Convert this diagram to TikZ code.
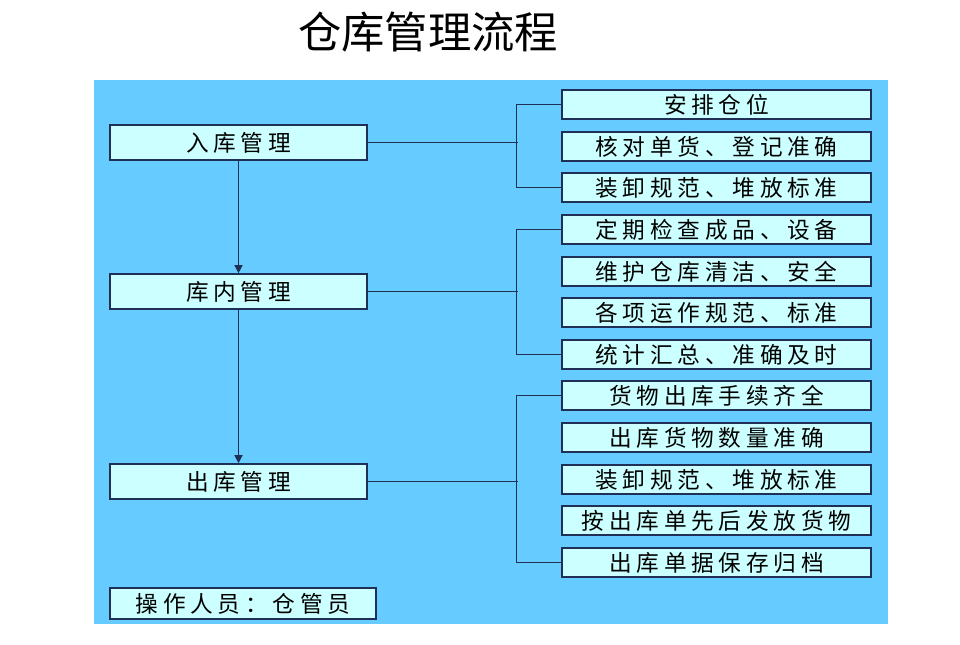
\documentclass[tikz,border=0pt]{standalone}
\usepackage{fontspec}
\usepackage{tikz}
\usetikzlibrary{arrows.meta, positioning}
\newfontfamily\cjk{Noto Sans CJK SC}
\newfontfamily\cjkwide[LetterSpace=21]{Noto Sans CJK SC}
\definecolor{panelblue}{HTML}{66CCFF}
\definecolor{boxfill}{HTML}{CCFFFF}
\definecolor{edgenavy}{HTML}{1F2F55}

\begin{document}
\begin{tikzpicture}[x=0.75pt, y=-0.75pt,
    mainbox/.style={rectangle, draw=edgenavy, fill=boxfill, line width=1.2pt,
                    minimum width=192.75pt, minimum height=26.25pt, inner sep=0pt,
                    font=\cjkwide\fontsize{17}{17}\selectfont},
    itembox/.style={mainbox, minimum width=231.75pt, minimum height=21.75pt},
    link/.style={draw=edgenavy, line width=1pt},
    arrow/.style={link, -{Triangle[length=6pt, width=6pt]}}
  ]
    \useasboundingbox (0,0) rectangle (960,645);

    % Title and panel
    \node[font=\cjk\fontsize{32.5}{32.5}\selectfont] (title) at (428, 32) {仓库管理流程};
    \fill[panelblue] (94, 80) rectangle (888, 624);

    % Stages
    \node[mainbox] (instock)  at (238.5, 142.5) {入库管理};
    \node[mainbox] (instore)  at (238.5, 291.5) {库内管理};
    \node[mainbox] (outstock) at (238.5, 481.5) {出库管理};

    % Operator
    \node[mainbox, minimum width=199.5pt, minimum height=23.25pt]
      (operator) at (243, 603.5) {操作人员：仓管员};

    % Tasks
    \node[itembox] (in1)  at (716.5, 104.5) {安排仓位};
    \node[itembox] (in2)  at (716.5, 146.5) {核对单货、登记准确};
    \node[itembox] (in3)  at (716.5, 187.5) {装卸规范、堆放标准};
    \node[itembox] (st1)  at (716.5, 229.5) {定期检查成品、设备};
    \node[itembox] (st2)  at (716.5, 271.5) {维护仓库清洁、安全};
    \node[itembox] (st3)  at (716.5, 312.5) {各项运作规范、标准};
    \node[itembox] (st4)  at (716.5, 354.5) {统计汇总、准确及时};
    \node[itembox] (out1) at (716.5, 395.5) {货物出库手续齐全};
    \node[itembox] (out2) at (716.5, 437.5) {出库货物数量准确};
    \node[itembox] (out3) at (716.5, 479.5) {装卸规范、堆放标准};
    \node[itembox] (out4) at (716.5, 520.5) {按出库单先后发放货物};
    \node[itembox] (out5) at (716.5, 562.5) {出库单据保存归档};

    % Arrows
    \draw[arrow] (instock.south) -- (instore.north);
    \draw[arrow] (instore.south) -- (outstock.north);

    % Brackets
    \draw[link] (instock.east) -- ++(150, 0);
    \draw[link] (in1.west) -- ++(-45, 0) |- (in3.west);
    \draw[link] (instore.east) -- ++(150, 0);
    \draw[link] (st1.west) -- ++(-45, 0) |- (st4.west);
    \draw[link] (outstock.east) -- ++(150, 0);
    \draw[link] (out1.west) -- ++(-45, 0) |- (out5.west);
  \end{tikzpicture}
\end{document}
